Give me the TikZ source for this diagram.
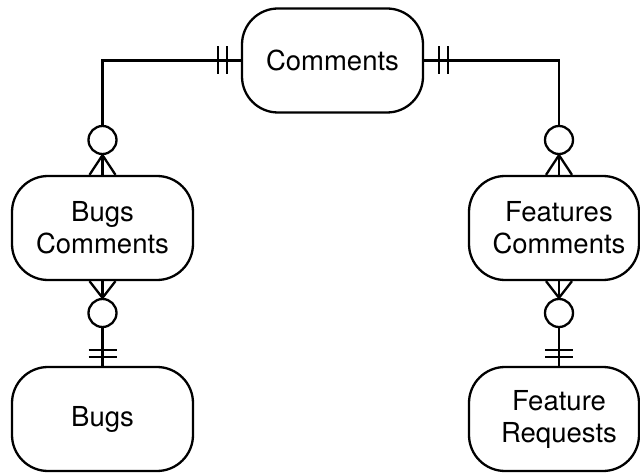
\documentclass[tikz,border=0pt]{standalone}
\usepackage{fontspec}
\setmainfont{TeX Gyre Heros}
\usetikzlibrary{calc}
\begin{document}
\begin{tikzpicture}[x=1pt,y=-1pt,
  entity/.style={draw, line width=2.3pt, rounded corners=36pt,
    minimum width=181pt, minimum height=104pt, inner sep=0pt,
    align=center, font=\fontsize{27.5}{32}\selectfont},
  label/.style={align=center, inner sep=0pt, font=\fontsize{27.5}{32}\selectfont},
  rel/.style={line width=2.3pt},
  zero/.style={circle, draw, fill=white, line width=2.3pt, minimum size=28pt, inner sep=0pt}]
\useasboundingbox (0,0) rectangle (640,473);

% entities
\node[entity] (comments) at (332.5,60.5) {Comments};
\node[entity] (bugscom) at (102.5,228) {Bugs\\Comments};
\node[entity] (bugs) at (102.5,419) {Bugs};
\node[entity, minimum width=170pt] (featcom) at (554,228) {};
\node[label] (featcomtext) at (559,228) {Features\\Comments};
\node[entity, minimum width=170pt] (featreq) at (554,419) {};
\node[label] (featreqtext) at (559,419) {Feature\\Requests};

% optional markers
\node[zero] (c1) at (102.5,140) {};
\node[zero] (c2) at (559,140) {};
\node[zero] (c3) at (102.5,313) {};
\node[zero] (c4) at (559,313) {};

% Comments -- Bugs Comments
\draw[rel] (comments.west) -| (c1.north);
\draw[rel] ($(comments.west)+(-14,-14)$) -- ++(0,28);
\draw[rel] ($(comments.west)+(-23,-14)$) -- ++(0,28);
\draw[rel] (c1.south) -- (c1.south |- bugscom.north);
\draw[rel] (c1.south) -- ($(c1.south |- bugscom.north)+(-13,0)$);
\draw[rel] (c1.south) -- ($(c1.south |- bugscom.north)+(13,0)$);

% Comments -- Features Comments
\draw[rel] (comments.east) -| (c2.north);
\draw[rel] ($(comments.east)+(15,-14)$) -- ++(0,28);
\draw[rel] ($(comments.east)+(24,-14)$) -- ++(0,28);
\draw[rel] (c2.south) -- (c2.south |- featcom.north);
\draw[rel] (c2.south) -- ($(c2.south |- featcom.north)+(-13,0)$);
\draw[rel] (c2.south) -- ($(c2.south |- featcom.north)+(13,0)$);

% Bugs Comments -- Bugs
\draw[rel] (c3.north) -- (c3.north |- bugscom.south);
\draw[rel] (c3.north) -- ($(c3.north |- bugscom.south)+(-13,0)$);
\draw[rel] (c3.north) -- ($(c3.north |- bugscom.south)+(13,0)$);
\draw[rel] (c3.south) -- (bugs.north);
\draw[rel] ($(bugs.north)+(-14,-9)$) -- ++(28,0);
\draw[rel] ($(bugs.north)+(-14,-16)$) -- ++(28,0);

% Features Comments -- Feature Requests
\draw[rel] (c4.north) -- (c4.north |- featcom.south);
\draw[rel] (c4.north) -- ($(c4.north |- featcom.south)+(-13,0)$);
\draw[rel] (c4.north) -- ($(c4.north |- featcom.south)+(13,0)$);
\draw[rel] (c4.south) -- (c4.south |- featreq.north);
\draw[rel] ($(c4.south |- featreq.north)+(-14,-9)$) -- ++(28,0);
\draw[rel] ($(c4.south |- featreq.north)+(-14,-16)$) -- ++(28,0);
\end{tikzpicture}
\end{document}
